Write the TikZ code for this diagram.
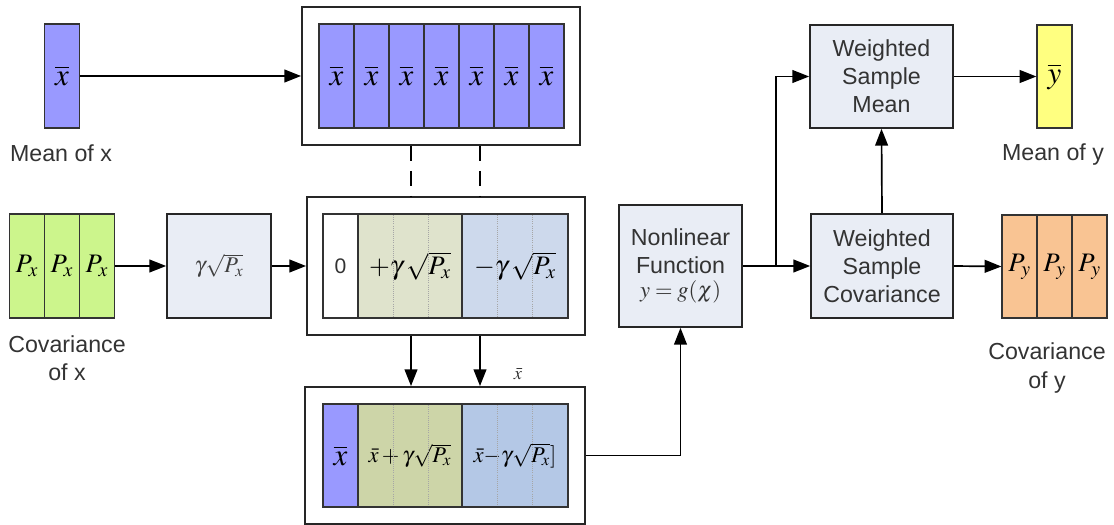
\documentclass[tikz,border=0pt]{standalone}
\usepackage{mathptmx}
\usepackage[no-math]{fontspec}
\setmainfont{Liberation Sans}
\usetikzlibrary{arrows.meta}
\definecolor{xbar}{HTML}{9999FF}
\definecolor{pxg}{HTML}{CCF58C}
\definecolor{boxbg}{HTML}{E9EDF5}
\definecolor{midg}{HTML}{DFE3CC}
\definecolor{midb}{HTML}{CDD9EC}
\definecolor{botg}{HTML}{CDD5A8}
\definecolor{botb}{HTML}{B4C8E6}
\definecolor{ybar}{HTML}{FFFF80}
\definecolor{pyo}{HTML}{F9C493}
\definecolor{ink}{HTML}{333333}
\newcommand{\pu}{0.025cm}

\begin{document}
\begin{tikzpicture}[x=0.025cm, y=-0.025cm,
		cell/.style={draw=black!80, line width=0.8pt, minimum width=35*\pu, minimum height=104*\pu, inner sep=0pt},
		blk/.style={draw=black!85, line width=1.2pt, fill=boxbg, align=center, inner sep=0pt,
			font=\fontsize{16.5}{20}\selectfont, text=ink},
		frame/.style={draw=black!85, line width=1.3pt, minimum width=278*\pu, minimum height=138*\pu},
		flow/.style={line width=1.2pt, -{Triangle[length=4.2mm,width=3.2mm]}},
		lbl/.style={font=\fontsize{16.5}{20}\selectfont, align=center, text=ink},
		big/.style={font=\fontsize{22}{22}\selectfont},
		mid/.style={font=\fontsize{19}{19}\selectfont},
		dots/.style={densely dotted, black!35, line width=0.5pt}]

		\useasboundingbox (0,0) rectangle (1114,525);

		% Mean of x
		\node[cell, fill=xbar, big] (meanx) at (62,76) {$\overline{x}$};
		\node[lbl] (meanxlbl) at (61,153) {Mean of x};

		% Covariance of x
		\foreach \i/\cx in {1/27,2/62,3/97}
			\node[cell, fill=pxg, mid] (px\i) at (\cx,266) {$P_x$};
		\node[lbl] (pxlbl) at (67,358) {Covariance\\of x};
		\node[blk, minimum width=104*\pu, minimum height=104*\pu, font=\fontsize{16}{16}\selectfont, text=black!75] (gam) at (219,266) {$\gamma\sqrt{P_x}$};

		% Repeated mean
		\node[frame] (topframe) at (441,76) {};
		\foreach \i in {0,...,6}
			\node[cell, fill=xbar, big] (top\i) at (336.5+35*\i,76) {$\overline{x}$};

		% Spread
		\node[frame] (midframe) at (446,266) {};
		\node[cell, fill=white, font=\fontsize{15}{15}\selectfont, text=ink] (zero) at (340.5,266) {0};
		\node[cell, fill=midg, minimum width=104*\pu, mid] (plus) at (410,266) {$+\gamma\,\sqrt{P_x}$};
		\node[cell, fill=midb, minimum width=106*\pu, mid] (minus) at (515,266) {$-\gamma\,\sqrt{P_x}$};

		% Sigma points
		\node[frame, minimum width=280*\pu, minimum height=137*\pu] (botframe) at (445,455.5) {};
		\node[cell, fill=xbar, minimum height=103*\pu, big] (bx) at (340.5,455.5) {$\overline{x}$};
		\node[cell, fill=botg, minimum width=104*\pu, minimum height=103*\pu, font=\fontsize{16}{16}\selectfont] (bplus) at (410,455.5) {$\bar{x}+\gamma\sqrt{P_x}$};
		\node[cell, fill=botb, minimum width=106*\pu, minimum height=103*\pu, font=\fontsize{16}{16}\selectfont] (bminus) at (515,455.5) {$\bar{x}{-}\gamma\sqrt{P_x}]$};
		\node[font=\fontsize{13}{13}\selectfont, text=ink, inner sep=1pt] (xnote) at (518,374) {$\bar{x}$};

		\foreach \d in {393,428,497,532} {
			\draw[dots] (\d,215) -- (\d,317);
			\draw[dots] (\d,405) -- (\d,506);
		}

		% Dashed drops
		\coordinate (dropa) at (411,0);
		\coordinate (dropb) at (480,0);
		\draw[line width=1.2pt, dash pattern=on 0.375cm off 0.25cm] (topframe.south -| dropa) -- (midframe.north -| dropa);
		\draw[line width=1.2pt, dash pattern=on 0.375cm off 0.25cm] (topframe.south -| dropb) -- (midframe.north -| dropb);
		\draw[flow] (midframe.south -| dropa) -- (botframe.north -| dropa);
		\draw[flow] (midframe.south -| dropb) -- (botframe.north -| dropb);

		% Right side
		\node[blk, minimum width=123*\pu, minimum height=122*\pu] (nonlin) at (680.5,266) {Nonlinear\\Function\\[-3pt]{\fontsize{16}{16}\selectfont$y=g(\chi)$}};
		\node[blk, minimum width=143*\pu, minimum height=103*\pu] (wsm) at (881.5,76.5) {Weighted\\Sample\\Mean};
		\node[blk, minimum width=142*\pu, minimum height=104*\pu] (wsc) at (882,266) {Weighted\\Sample\\Covariance};
		\node[cell, fill=ybar, minimum height=103*\pu, big] (ymean) at (1054.5,76.5) {$\overline{y}$};
		\node[lbl] (ymeanlbl) at (1053,155) {Mean of y};
		\foreach \i/\cx in {1/1019.5,2/1054.5,3/1089.5}
			\node[cell, fill=pyo, minimum height=103*\pu, mid] (py\i) at (\cx,266.5) {$P_y$};
		\node[lbl] (pylbl) at (1047,368) {Covariance\\of y};

		% Connectors
		\draw[flow] (meanx.east) -- (topframe.west);
		\draw[flow] (px3.east) -- (gam.west);
		\draw[flow] (gam.east) -- (midframe.west);
		\draw[flow] (botframe.east) -| (nonlin.south);
		\coordinate (split) at (776,266);
		\draw[line width=1.2pt] (nonlin.east) -- (split);
		\draw[flow] (split) -- (wsc.west);
		\draw[flow] (split) |- (wsm.west);
		\draw[flow] (wsc.north) -- (wsm.south);
		\draw[flow] (wsm.east) -- (ymean.west);
		\draw[flow] (wsc.east) -- (py1.west);

	\end{tikzpicture}
\end{document}
